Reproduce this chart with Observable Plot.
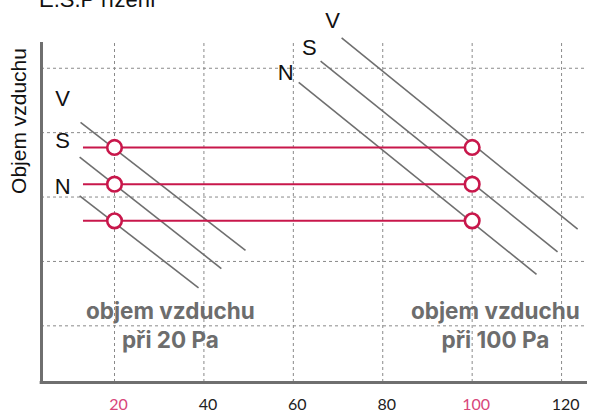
<!DOCTYPE html>
<html>
<head>
<meta charset="utf-8">
<script src="https://cdn.jsdelivr.net/npm/d3@7"></script>
<script src="https://cdn.jsdelivr.net/npm/@observablehq/plot@0.6"></script>
<style>
  html, body { margin: 0; padding: 0; background: #fff; overflow: hidden; }
  #wrap { position: relative; width: 590px; height: 412px; }
  #title { position: absolute; left: 39px; top: -10.6px; font: 22px "Liberation Sans", Arial, sans-serif; line-height: 22px; color: #111; white-space: nowrap; }
  #chart { position: absolute; left: 0; top: 0; }
</style>
</head>
<body>
<div id="wrap">
  <div id="title">E.S.P řízení</div>
  <div id="chart"></div>
</div>
<script>
// ---- data ----
const xDomain = [3.67, 125.8];
const yDomain = [0.12, 5.4];
const xTicks = [20, 40, 60, 80, 100, 120];
const highlightTicks = [20, 100];
const yGrid = [1, 2, 3, 4, 5];

// airflow levels for fan settings N, S, V
const fanNames = ["N", "S", "V"];
const airflow = [2.63, 3.20, 3.77];
const pressurePoints = [20, 100];
const lineStart = 13.06;

// fan curves (two groups: at 20 Pa and at 100 Pa)
const curveFan = ["V", "S", "N", "V", "S", "N"];
const curveX0 = [12.4, 12.2, 12.2, 70.8, 66.1, 61.2];
const curveY0 = [4.16, 3.62, 3.02, 5.47, 5.11, 4.78];
const curveX1 = [49.3, 43.9, 38.8, 123.6, 119.1, 114.4];
const curveY1 = [2.17, 1.89, 1.59, 2.50, 2.15, 1.80];

// fan labels
const fanLabelText = ["V", "S", "N", "V", "S", "N"];
const fanLabelX = [8.4, 8.4, 8.4, 68.8, 63.6, 58.3];
const fanLabelY = [4.52, 3.87, 3.15, 5.73, 5.31, 4.92];

// annotations
const noteText = ["objem vzduchu", "při 20 Pa", "objem vzduchu", "při 100 Pa"];
const noteX = [32.5, 32.5, 105.2, 105.2];
const noteY = [1.215, 0.765, 1.215, 0.765];

const yLabel = "Objem vzduchu";

// ---- build ----
const crimson = "#c8174b";
const pink = "#d8467a";
const gray = "#6f6f6f";

const curves = curveFan.map((f, i) => ({f, x1: curveX0[i], y1: curveY0[i], x2: curveX1[i], y2: curveY1[i]}));
const hLines = airflow.map((a, i) => ({name: fanNames[i], y: a}));
const dots = [];
airflow.forEach(a => pressurePoints.forEach(p => dots.push({x: p, y: a})));
const fanLabels = fanLabelText.map((t, i) => ({t, x: fanLabelX[i], y: fanLabelY[i]}));
const notes = noteText.map((t, i) => ({t, x: noteX[i], y: noteY[i]}));

const chart = Plot.plot({
  width: 590,
  height: 412,
  marginLeft: 41,
  marginRight: 3,
  marginTop: 42,
  marginBottom: 30,
  x: {domain: xDomain, axis: null},
  y: {domain: yDomain, axis: null},
  style: {background: "transparent", overflow: "visible"},
  marks: [
    Plot.ruleX(xTicks, {x: d => d, y1: yDomain[0], y2: yDomain[1], stroke: "#8a8a8a", strokeWidth: 1, strokeDasharray: "3,3"}),
    Plot.ruleY(yGrid, {y: d => d, x1: xDomain[0], x2: xDomain[1], stroke: "#8a8a8a", strokeWidth: 1, strokeDasharray: "3,3"}),
    Plot.link(curves, {x1: "x1", y1: "y1", x2: "x2", y2: "y2", stroke: gray, strokeWidth: 1.6}),
    Plot.ruleY(hLines, {y: "y", x1: lineStart, x2: pressurePoints[1], stroke: crimson, strokeWidth: 2}),
    Plot.dot(dots, {x: "x", y: "y", r: 7.3, fill: "white", stroke: crimson, strokeWidth: 2.6}),
    Plot.ruleX([xDomain[0]], {y1: yDomain[0], y2: yDomain[1], stroke: gray, strokeWidth: 3}),
    Plot.ruleY([yDomain[0]], {x1: xDomain[0] - 0.3, x2: xDomain[1], stroke: gray, strokeWidth: 3}),
    Plot.text(xTicks, {x: d => d, y: yDomain[0], dy: 22, dx: 4, text: d => String(d),
      fill: d => highlightTicks.includes(d) ? pink : "#222", fontSize: 16,
      fontFamily: "Lato, 'Open Sans', sans-serif"}),
    Plot.text(fanLabels, {x: "x", y: "y", text: "t", fill: "#111", fontSize: 22,
      fontFamily: "'Liberation Sans', Arial, sans-serif"}),
    Plot.text(notes, {x: "x", y: "y", text: "t", fill: "#6d6d6d", fontSize: 22.5, fontWeight: 700,
      fontFamily: "Inter, 'Open Sans', sans-serif"}),
    Plot.text([yLabel], {frameAnchor: "left", textAnchor: "middle", dx: -22, dy: -91.5, text: d => d, rotate: -90,
      fill: "#111", fontSize: 21, fontFamily: "'Liberation Sans', Arial, sans-serif"})
  ]
});
document.getElementById("chart").appendChild(chart);
</script>
</body>
</html>
